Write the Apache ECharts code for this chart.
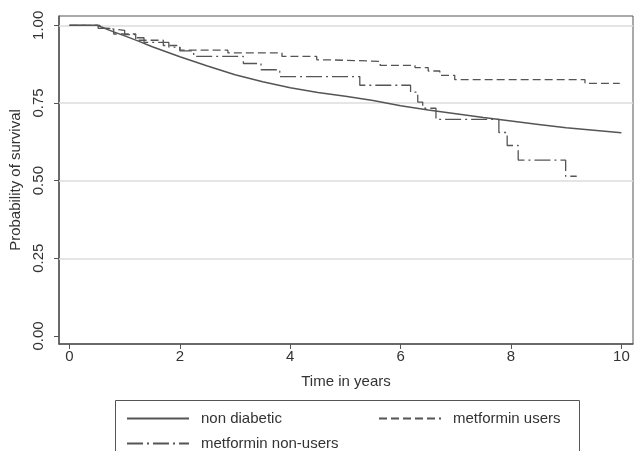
<!DOCTYPE html>
<html>
<head>
<meta charset="utf-8">
<script src="https://cdn.jsdelivr.net/npm/echarts@6/dist/echarts.min.js"></script>
<style>
  html, body { margin: 0; padding: 0; background: #fff; }
  #km { width: 641px; height: 451px; }
</style>
</head>
<body>
<div id="km"></div>
<script>
// survival curves (time in years, probability)
const diabTime = [0, 0.5, 0.6, 0.8, 1.0, 1.25, 1.5, 2.0, 2.5, 3.0, 3.5, 4.0, 4.5, 5.0, 5.5, 6.0, 6.5, 7.0, 7.5, 8.0, 8.5, 9.0, 9.5, 10.0];
const diabSurv = [1.0, 1.0, 0.993, 0.979, 0.966, 0.949, 0.931, 0.899, 0.869, 0.841, 0.818, 0.799, 0.784, 0.772, 0.758, 0.741, 0.727, 0.715, 0.703, 0.692, 0.681, 0.670, 0.662, 0.654];

const usersTime = [0, 0.55, 0.8, 1.2, 1.7, 2.0, 2.87, 3.85, 4.48, 4.68, 5.63, 6.26, 6.5, 6.71, 6.98, 9.34, 9.97];
const usersSurv = [1.0, 0.99, 0.972, 0.952, 0.935, 0.92, 0.911, 0.90, 0.889, 0.884, 0.871, 0.864, 0.853, 0.839, 0.825, 0.813, 0.813];

const nonUsersTime = [0, 0.52, 0.7, 1.0, 1.2, 1.35, 1.8, 2.0, 2.25, 3.15, 3.47, 3.81, 5.26, 6.18, 6.31, 6.40, 6.64, 7.78, 7.93, 8.13, 8.99, 9.19];
const nonUsersSurv = [1.0, 0.99, 0.984, 0.97, 0.96, 0.945, 0.93, 0.918, 0.90, 0.877, 0.857, 0.835, 0.807, 0.785, 0.753, 0.733, 0.697, 0.655, 0.613, 0.566, 0.514, 0.514];

const xTicks = [0, 2, 4, 6, 8, 10];
const yTicks = [0, 0.25, 0.5, 0.75, 1];
const gridValues = [0.25, 0.5, 0.75, 1];

const names = ['non diabetic', 'metformin users', 'metformin non-users'];

const pairs = (t, s) => t.map((v, i) => [v, s[i]]);

const lineColor = '#555';
const textColor = '#333';
const font = 'Liberation Sans, Arial, sans-serif';

let chart = echarts.init(document.getElementById('km'));

const legendBase = {
  orient: 'horizontal',
  itemWidth: 62,
  itemHeight: 14,
  itemStyle: { opacity: 0 },
  textStyle: { fontFamily: font, fontSize: 15, color: textColor, padding: [0, 0, 0, 7] },
};

let option = {
  animation: false,
  backgroundColor: '#fff',
  grid: {
    left: 59,
    right: 8,
    top: 16,
    bottom: 107,
    show: true,
    borderColor: lineColor,
    borderWidth: 1,
    backgroundColor: '#fff',
  },
  xAxis: {
    type: 'value',
    min: -0.19,
    max: 10.21,
    name: 'Time in years',
    nameLocation: 'middle',
    nameGap: 30,
    nameTextStyle: { fontFamily: font, fontSize: 15, color: textColor },
    axisLine: { show: true, onZero: false, lineStyle: { color: lineColor, width: 1.5 } },
    axisTick: { show: true, length: 5, customValues: xTicks, lineStyle: { color: lineColor } },
    axisLabel: { customValues: xTicks, fontFamily: font, fontSize: 15, color: textColor, margin: 5 },
    splitLine: { show: false },
  },
  yAxis: {
    type: 'value',
    min: -0.026,
    max: 1.03,
    name: 'Probability of survival',
    nameLocation: 'middle',
    nameRotate: 90,
    nameGap: 35,
    nameTextStyle: { fontFamily: font, fontSize: 15, color: textColor },
    axisLine: { show: true, onZero: false, lineStyle: { color: lineColor, width: 1.5 } },
    axisTick: { show: true, length: 5, customValues: yTicks, lineStyle: { color: lineColor } },
    axisLabel: {
      customValues: yTicks,
      rotate: 90,
      fontFamily: font,
      fontSize: 15,
      color: textColor,
      margin: 13,
      formatter: (v) => v.toFixed(2),
    },
    splitLine: { show: false },
  },
  legend: [
    Object.assign({}, legendBase, { left: 121, top: 406, data: [names[0]] }),
    Object.assign({}, legendBase, { left: 373, top: 406, data: [names[1]] }),
    Object.assign({}, legendBase, { left: 121, top: 431, data: [names[2]] }),
  ],
  graphic: [
    {
      type: 'rect',
      left: 113,
      top: 398,
      shape: { width: 464, height: 80 },
      style: { fill: 'none', stroke: lineColor, lineWidth: 1 },
      z: 0,
    },
  ],
  series: [
    {
      name: names[0],
      type: 'line',
      data: pairs(diabTime, diabSurv),
      symbol: 'none',
      lineStyle: { color: lineColor, width: 1.5, type: 'solid' },
      itemStyle: { color: lineColor },
      z: 3,
      markLine: {
        silent: true,
        symbol: 'none',
        label: { show: false },
        lineStyle: { color: '#dcdcdc', width: 1.5, type: 'solid' },
        data: gridValues.map((v) => ({ yAxis: v })),
        z: 1,
      },
    },
    {
      name: names[1],
      type: 'line',
      step: 'end',
      data: pairs(usersTime, usersSurv),
      symbol: 'none',
      lineStyle: { color: lineColor, width: 1.3, type: [8, 4] },
      itemStyle: { color: lineColor },
      z: 3,
    },
    {
      name: names[2],
      type: 'line',
      step: 'end',
      data: pairs(nonUsersTime, nonUsersSurv),
      symbol: 'none',
      lineStyle: { color: lineColor, width: 1.3, type: [16, 4, 2, 4] },
      itemStyle: { color: lineColor },
      z: 3,
    },
  ],
};

chart.setOption(option);
</script>
</body>
</html>
